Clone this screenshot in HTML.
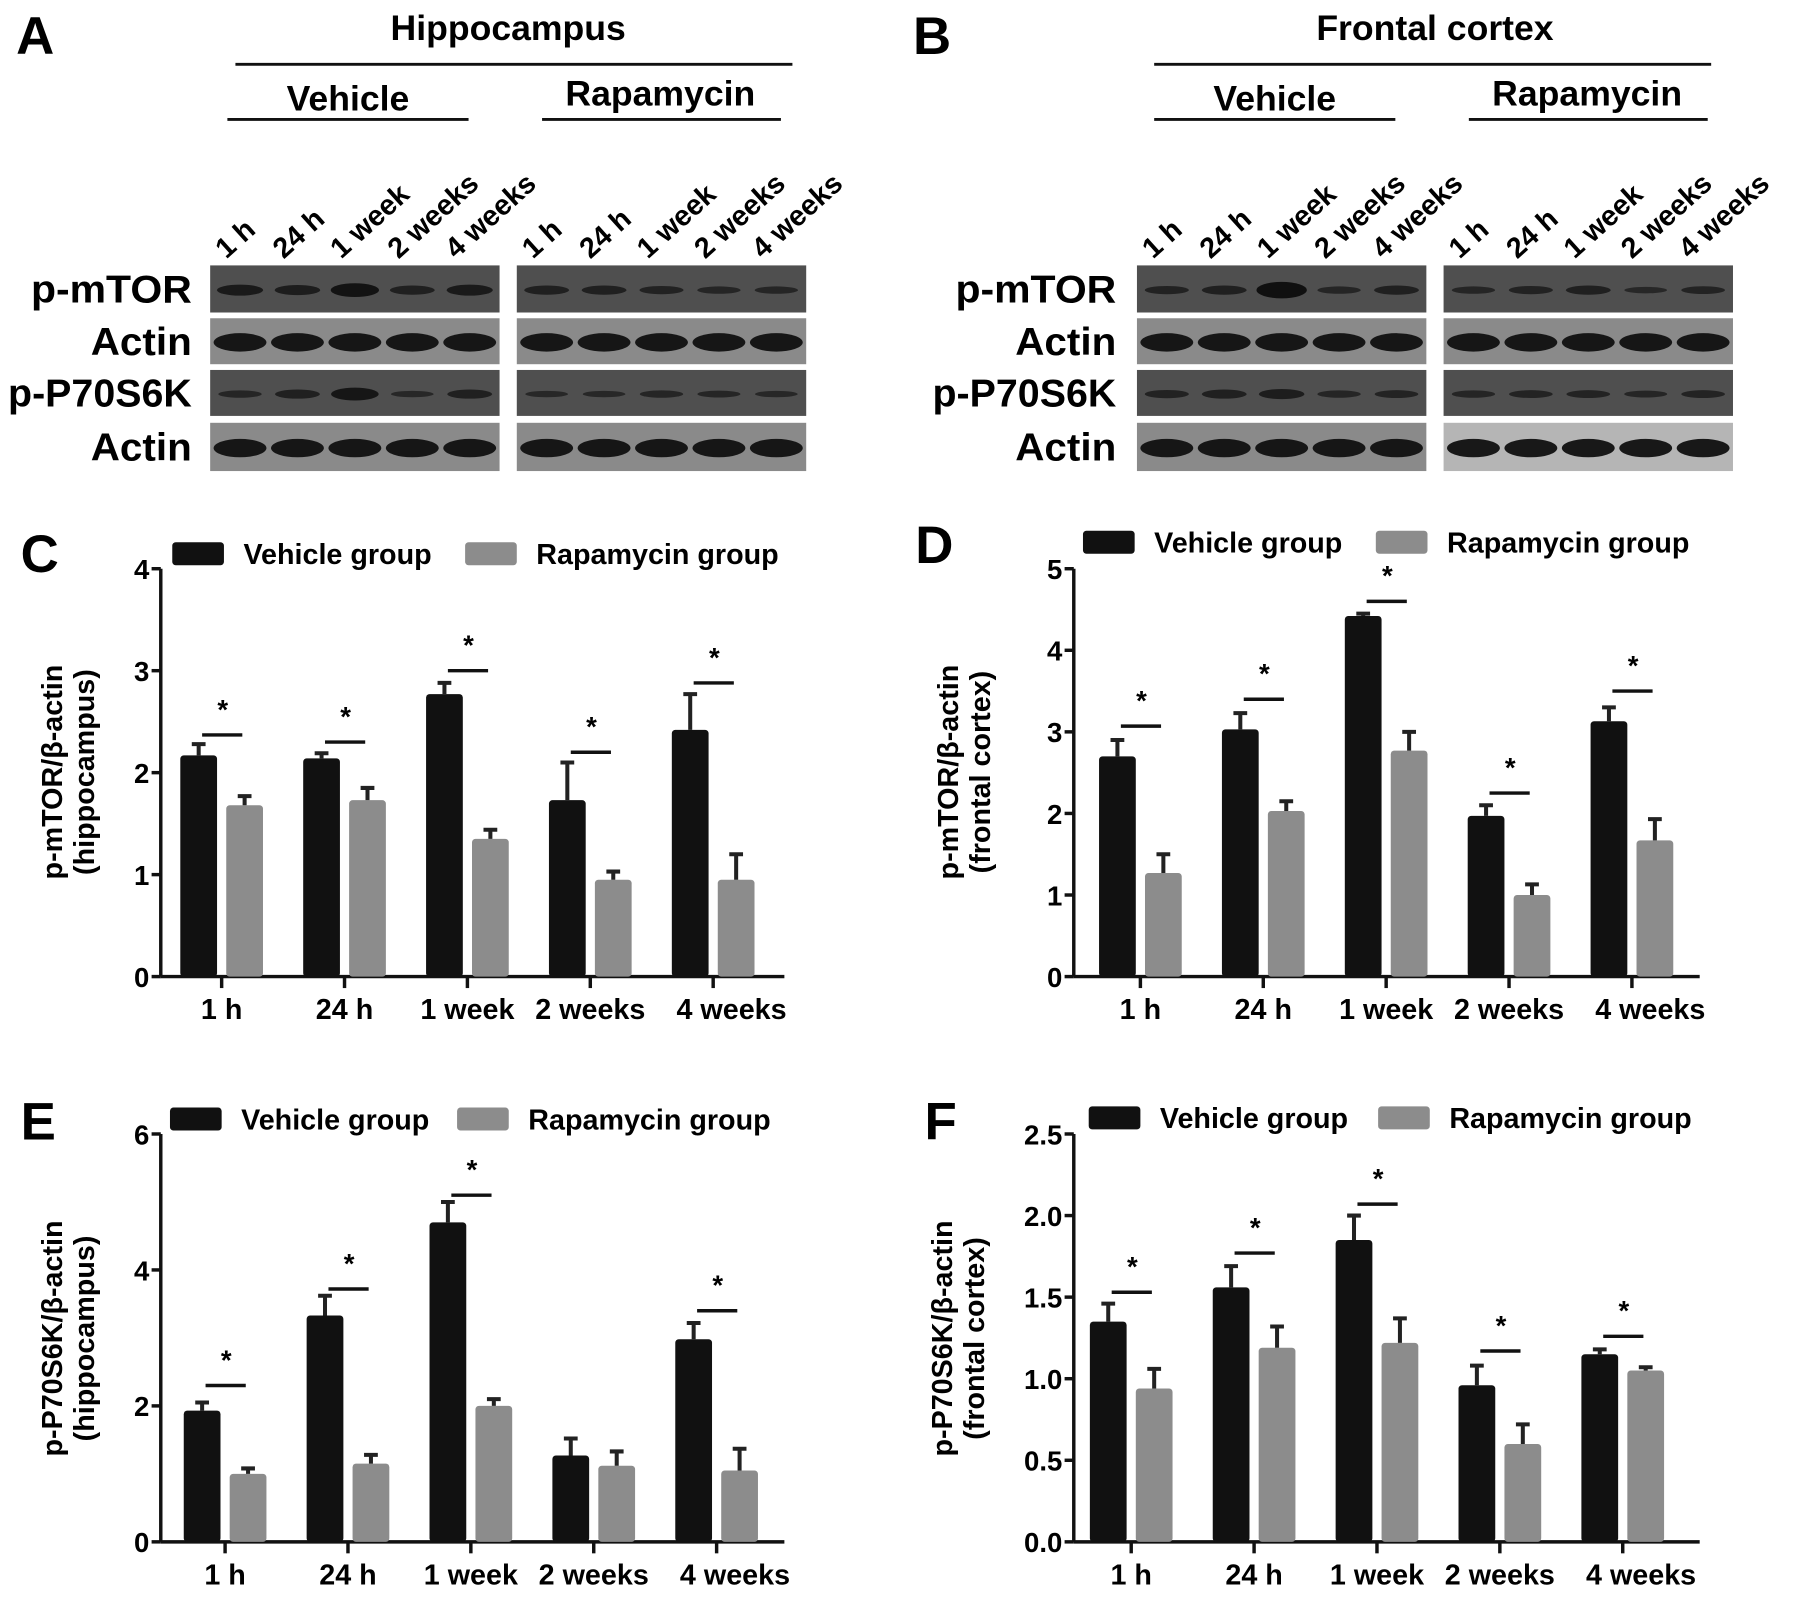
<!DOCTYPE html>
<html><head><meta charset="utf-8"><style>
html,body{margin:0;padding:0;background:#fff;}
svg{display:block;font-family:"Liberation Sans",Arial,sans-serif;font-weight:bold;}
</style></head><body>
<svg id="fig" width="1795" height="1597" viewBox="0 0 1563 1390" preserveAspectRatio="none" xmlns="http://www.w3.org/2000/svg">
<rect width="1563" height="1390" fill="#fff"/>
<g id="blots"></g>
<g id="charts"></g>
</svg>
<script>
const categories = ["1 h","24 h","1 week","2 weeks","4 weeks"];
const seriesNames = ["Vehicle group","Rapamycin group"];
const rowLabels = ["p-mTOR","Actin","p-P70S6K","Actin"];

const cVehicle = [2.17,2.14,2.77,1.73,2.42];
const cVehicleErr = [0.11,0.05,0.11,0.37,0.35];
const cRapa = [1.68,1.73,1.35,0.95,0.95];
const cRapaErr = [0.09,0.12,0.09,0.08,0.25];
const cSig = [2.37,2.30,3.00,2.20,2.88];
const cTicks = [0,1,2,3,4];

const dVehicle = [2.70,3.03,4.42,1.97,3.13];
const dVehicleErr = [0.20,0.20,0.03,0.13,0.17];
const dRapa = [1.27,2.03,2.77,1.00,1.67];
const dRapaErr = [0.23,0.12,0.23,0.13,0.26];
const dSig = [3.07,3.40,4.60,2.25,3.50];
const dTicks = [0,1,2,3,4,5];

const eVehicle = [1.93,3.33,4.70,1.27,2.98];
const eVehicleErr = [0.12,0.29,0.30,0.25,0.24];
const eRapa = [1.00,1.15,2.00,1.12,1.05];
const eRapaErr = [0.08,0.13,0.10,0.21,0.32];
const eSig = [2.30,3.72,5.10,null,3.40];
const eTicks = [0,2,4,6];

const fVehicle = [1.35,1.56,1.85,0.96,1.15];
const fVehicleErr = [0.11,0.13,0.15,0.12,0.03];
const fRapa = [0.94,1.19,1.22,0.60,1.05];
const fRapaErr = [0.12,0.13,0.15,0.12,0.02];
const fSig = [1.53,1.77,2.07,1.17,1.26];
const fTicks = [0,0.5,1.0,1.5,2.0,2.5];
const fTickLabels = ["0.0","0.5","1.0","1.5","2.0","2.5"];

const NS="http://www.w3.org/2000/svg";
function mk(parent,tag,attrs,text){const e=document.createElementNS(NS,tag);for(const k in attrs)e.setAttribute(k,attrs[k]);if(text!==undefined)e.textContent=text;parent.appendChild(e);return e;}

const blots=document.getElementById('blots');
function header(x,y,t,name){const e=mk(blots,'text',{x:x,y:y,'font-size':31,'text-anchor':'middle'},t);}
function hline(x1,x2,y,name){const e=mk(blots,'line',{x1:x1,x2:x2,y1:y,y2:y,stroke:'#111','stroke-width':2.5});}
function letter(parent,x,y,t){const e=mk(parent,'text',{x:x,y:y,'font-size':46},t);}
letter(blots,14,47,'A');letter(blots,795,47,'B');
const labelW={"p-mTOR":140,"Actin":88,"p-P70S6K":160};

function blotPanel(ox,title,leftBox,rightBox,lblX,intens,rightLightLast){
  header((leftBox+rightBox+252)/2,35,title,'region-title');
  hline(ox+22,ox+507,56,'region-underline');
  header(leftBox+120,96,'Vehicle','vehicle-header');
  hline(leftBox+15,leftBox+225,104,'vehicle-underline');
  header(rightBox+125,92,'Rapamycin','rapamycin-header');
  hline(rightBox+22,rightBox+230,104,'rapamycin-underline');
  const rowsY=[[231,272],[277,317],[322,362],[368,410]];
  rowLabels.forEach((r,i)=>{const e=mk(blots,'text',{x:lblX,y:(rowsY[i][0]+rowsY[i][1])/2+12,'font-size':34,'text-anchor':'end',textLength:labelW[r],lengthAdjust:'spacingAndGlyphs'},r);});
  [leftBox,rightBox].forEach((bx,bi)=>{
    categories.forEach((c,i)=>{const lx=bx+22+i*50;const e=mk(blots,'text',{x:lx-8,y:226,'font-size':25,transform:`rotate(-42 ${lx-8} 226)`},c);});
    rowsY.forEach((ry,ri)=>{
      let fill = ri%2===0?'#4f4f4f':'#8a8a8a';
      if(rightLightLast && bi===1 && ri===3) fill='#b5b5b5';
      const r=mk(blots,'rect',{x:bx,y:ry[0],width:252,height:ry[1]-ry[0],fill:fill});
      categories.forEach((c,i)=>{
        const cx=bx+26+i*50, cy=(ry[0]+ry[1])/2+1;
        const k=intens[bi][ri][i];
        const b=mk(blots,'ellipse',{cx:cx,cy:cy,rx:ri%2?23:18+k*3,ry:ri%2?8:2+k*4,fill:'#101010',opacity:ri%2?0.95:0.55+k*0.4});
      });
    });
  });
}
const hipI=[[[0.7,0.6,1,0.5,0.7],[1,1,1,1,1],[0.3,0.5,0.9,0.2,0.5],[1,1,1,1,1]],[[0.5,0.5,0.4,0.3,0.3],[1,1,1,1,1],[0.2,0.2,0.3,0.25,0.2],[1,1,1,1,1]]];
const frI=[[[0.4,0.5,1.3,0.3,0.5],[1,1,1,1,1],[0.4,0.5,0.6,0.3,0.35],[1,1,1,1,1]],[[0.3,0.4,0.5,0.2,0.35],[1,1,1,1,1],[0.3,0.35,0.35,0.25,0.35],[1,1,1,1,1]]];
blotPanel(183,'Hippocampus',183,450,167,hipI,false);
blotPanel(983,'Frontal cortex',990,1257,972,frI,true);

const charts=document.getElementById('charts');
function chart(cfg){
  const g=mk(charts,'g',{});
  
  
  const yMax=cfg.ticks[cfg.ticks.length-1];
  const ys=v=>cfg.y0-(v/yMax)*(cfg.y0-cfg.yTop);
  const xs=i=>cfg.ax+cfg.off+i*107;
  letter(g,cfg.lx,cfg.ly,cfg.letter);
  [[cfg.legX,'#111'],[cfg.legX2,'#8c8c8c']].forEach((p,i)=>{
    const r=mk(g,'rect',{x:p[0],y:cfg.legY-10,width:45,height:20,rx:3,fill:p[1]});
    const t=mk(g,'text',{x:p[0]+62,y:cfg.legY+9,'font-size':25},seriesNames[i]);
  });
  const ya=mk(g,'line',{x1:cfg.ax,x2:cfg.ax,y1:cfg.yTop,y2:cfg.y0,stroke:'#111','stroke-width':3});
  const xa=mk(g,'line',{x1:cfg.ax,x2:cfg.axEnd,y1:cfg.y0,y2:cfg.y0,stroke:'#111','stroke-width':3});
  cfg.ticks.forEach((t,i)=>{
    mk(g,'line',{x1:cfg.ax-8,x2:cfg.ax,y1:ys(t),y2:ys(t),stroke:'#111','stroke-width':3});
    const tl=mk(g,'text',{x:cfg.ax-10,y:ys(t)+9,'font-size':24,'text-anchor':'end'},cfg.tickLabels?cfg.tickLabels[i]:String(t));
  });
  categories.forEach((c,i)=>{
    mk(g,'line',{x1:xs(i),x2:xs(i),y1:cfg.y0,y2:cfg.y0+10,stroke:'#111','stroke-width':3});
    const tl=mk(g,'text',{x:xs(i)+(i===4?16:0),y:cfg.y0+37,'font-size':25,'text-anchor':'middle'},c);
    [[cfg.veh,cfg.vehE,-20,'#111','vehicle'],[cfg.rap,cfg.rapE,20,'#8c8c8c','rapamycin']].forEach(s=>{
      const v=s[0][i], e=s[1][i], cx=xs(i)+s[2];
      const b=mk(g,'rect',{x:cx-16,y:ys(v),width:32,height:cfg.y0-ys(v),rx:3,fill:s[3]});
      
      
      const el=mk(g,'path',{d:`M${cx} ${ys(v)} V${ys(v+e)} M${cx-6} ${ys(v+e)} H${cx+6}`,stroke:'#222','stroke-width':3.5,fill:'none'});
      
      
    });
    const sv=cfg.sig[i];
    if(sv!==null){
      const sl=mk(g,'line',{x1:xs(i)-17,x2:xs(i)+18,y1:ys(sv),y2:ys(sv),stroke:'#111','stroke-width':3});
      
      
      const st=mk(g,'text',{x:xs(i)+1,y:ys(sv)-14,'font-size':24,'text-anchor':'middle'},'*');
      
      
    }
  });
  const yt=mk(g,'text',{transform:`translate(${cfg.tx},${cfg.ty}) rotate(-90)`,'font-size':25,'text-anchor':'middle'});
  
  mk(yt,'tspan',{x:0,y:-14},cfg.t1);mk(yt,'tspan',{x:0,y:14},cfg.t2);
}
chart({name:'chart-c',letter:'C',lx:18,ly:498,ax:140,axEnd:683,off:53,y0:850,yTop:495,ticks:cTicks,veh:cVehicle,vehE:cVehicleErr,rap:cRapa,rapE:cRapaErr,sig:cSig,legX:150,legX2:405,legY:482,tx:68,ty:672,t1:'p-mTOR/β-actin',t2:'(hippocampus)'});
chart({name:'chart-d',letter:'D',lx:797,ly:490,ax:935,axEnd:1480,off:58,y0:850,yTop:495,ticks:dTicks,veh:dVehicle,vehE:dVehicleErr,rap:dRapa,rapE:dRapaErr,sig:dSig,legX:943,legX2:1198,legY:472,tx:848,ty:672,t1:'p-mTOR/β-actin',t2:'(frontal cortex)'});
chart({name:'chart-e',letter:'E',lx:18,ly:992,ax:140,axEnd:683,off:56,y0:1342,yTop:987,ticks:eTicks,veh:eVehicle,vehE:eVehicleErr,rap:eRapa,rapE:eRapaErr,sig:eSig,legX:148,legX2:398,legY:974,tx:68,ty:1165,t1:'p-P70S6K/β-actin',t2:'(hippocampus)'});
chart({name:'chart-f',letter:'F',lx:805,ly:992,ax:935,axEnd:1480,off:50,y0:1342,yTop:987,ticks:fTicks,tickLabels:fTickLabels,veh:fVehicle,vehE:fVehicleErr,rap:fRapa,rapE:fRapaErr,sig:fSig,legX:948,legX2:1200,legY:973,tx:843,ty:1165,t1:'p-P70S6K/β-actin',t2:'(frontal cortex)'});
</script>
</body></html>
